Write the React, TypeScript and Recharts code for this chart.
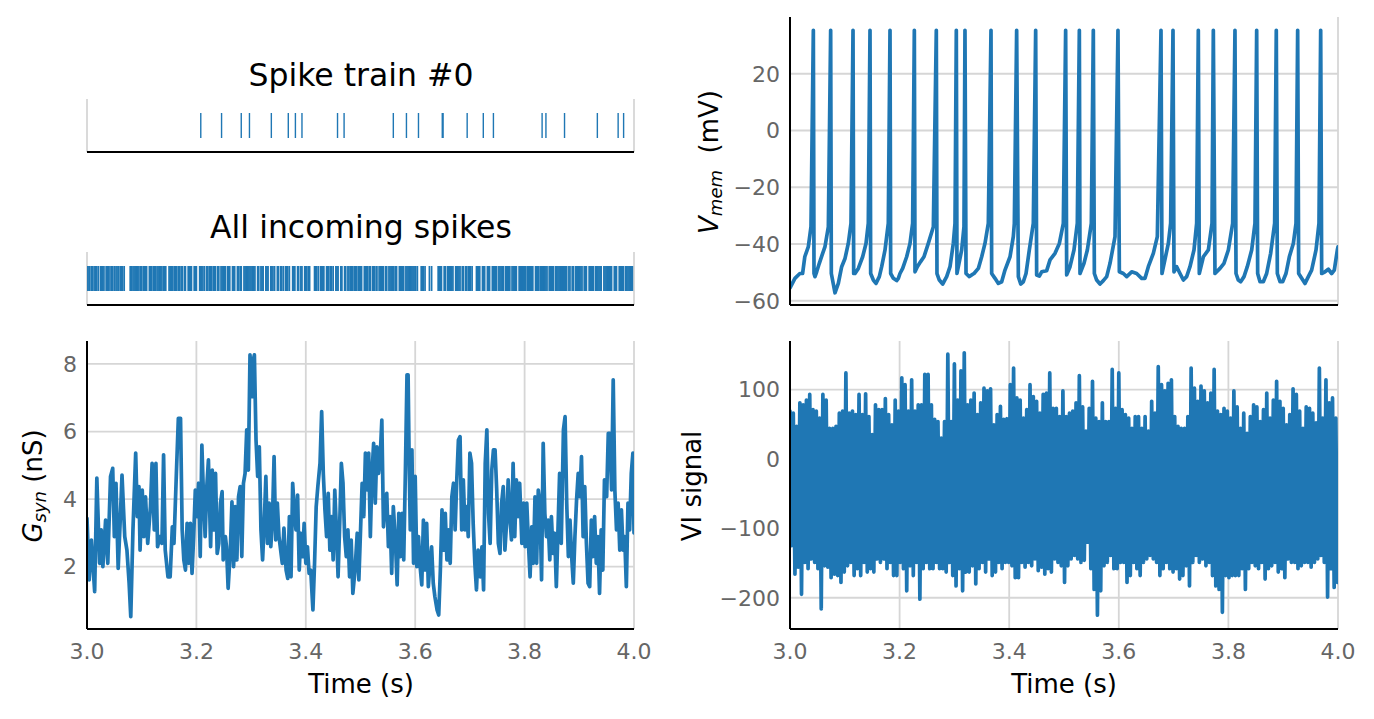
import React from "react";
import { LineChart, Line, ScatterChart, Scatter, XAxis, YAxis, CartesianGrid } from "recharts";

const W = 1374;
const H = 719;
const BLUE = "#1f77b4";
const GRID = "#d6d6d6";
const TICK_GRAY = "#666666";
const FONT = "DejaVu Sans, sans-serif";

const TIME_TICKS = [3.0, 3.2, 3.4, 3.6, 3.8, 4.0];
const GSYN_TICKS = [2, 4, 6, 8];
const VMEM_TICKS = [-60, -40, -20, 0, 20];
const VI_TICKS = [-200, -100, 0, 100];

// spike times, ms after t = 3 s
const TRAIN0_MS = [
  208, 246, 282, 297, 337, 368, 381, 393, 458, 470, 560, 584, 606, 649.5, 651, 695, 724.5, 743, 832, 839, 873,
  933, 971, 981,
];

const ALL_SPIKES_MS = [
  0, 2, 5, 8, 10, 13, 16, 18, 21, 25, 27, 29, 31, 35, 37, 39, 42, 45, 47, 50, 53, 55, 58, 61, 63, 65, 68,
  79, 81, 84, 86, 88, 91, 93, 95, 98, 100, 103, 105, 107, 109, 114, 116, 118, 121, 123, 125, 128, 130, 133, 135,
  137, 140, 142, 144,
  150, 152, 155, 157, 160, 162, 164, 167, 169, 172, 174, 178, 180, 185, 187, 189, 191, 196, 198, 200, 206, 208,
  210, 212, 215, 219, 221, 224, 226, 228, 231, 233, 235, 239, 241, 245, 247, 249, 251, 253, 257, 259, 261, 266,
  268, 270, 275, 277, 280, 282, 287, 289, 291, 294, 296, 298, 300, 303, 305, 307, 312, 314, 318, 320, 322, 327,
  329, 331, 336, 338, 340, 343, 348, 350, 354, 356, 359, 363, 365, 367, 370, 376, 378, 380, 385, 387, 391, 393,
  398, 400, 402, 405, 407,
  416, 418, 420, 423, 427, 429, 431, 433, 438, 440, 442, 445, 447, 450, 455, 457, 459, 464, 466, 471, 473, 477,
  479, 482, 484, 486, 489, 491, 493, 496, 498, 500, 502, 507, 509, 511, 513, 516, 518, 522, 524, 526, 529, 530,
  534, 536, 538, 540, 542, 546, 548, 552, 554, 556, 559, 561, 564, 566, 571, 573, 575, 577, 579, 583, 585, 587,
  589, 592, 594, 596, 598,
  601, 604, 611, 613, 615, 618, 626, 630,
  642, 644, 646, 648, 653, 655, 659, 661, 663, 665, 667, 669, 674, 676, 678, 680, 682, 686, 688, 692, 694, 697,
  699, 701, 704,
  712, 714, 716, 718, 723, 725, 727, 732, 734, 736, 741, 743, 745, 747, 749, 753, 755, 757, 759, 761, 765, 767,
  769, 771, 773, 777, 779, 781, 783, 785, 790, 792, 794, 796, 798, 800, 802, 805, 807, 809, 811, 813, 815, 820,
  822, 824, 826, 829, 831, 833, 835, 837, 839, 841, 845, 847, 849, 851, 853, 857, 859, 861, 863, 865, 867, 869,
  871, 873, 875, 877, 881, 883, 887, 889, 893, 895, 897, 899, 901, 903, 905, 909, 911, 913, 918, 920, 922, 924,
  926, 930, 932, 934, 936, 938, 940, 945, 947, 949, 951, 953, 955, 957, 959, 964, 966, 968, 973, 975, 977, 979,
  981, 985, 987, 989, 991, 993, 995, 997,
];

// [ms after 3 s, nS]
const GSYN: [number, number][] = [
  [0, 3.43], [4, 1.61], [8, 2.79], [14, 1.26], [18, 4.62], [23, 2.1], [26, 3.09], [29, 2.0], [34, 3.38], [38, 2.1],
  [43, 4.67], [47, 4.91], [50, 2.89], [53, 4.47], [57, 1.95], [61, 3.48], [64, 4.71], [69, 2.89], [73, 2.49],
  [77, 1.51], [80, 0.52], [84, 3.09], [89, 5.36], [92, 3.48], [95, 4.37], [97, 2.49], [101, 4.27], [104, 2.89],
  [107, 4.07], [111, 2.69], [116, 3.78], [119, 5.06], [123, 3.09], [126, 5.06], [129, 2.59], [133, 2.89],
  [137, 2.69], [140, 5.31], [143, 2.49], [148, 1.7], [152, 1.7], [156, 3.18], [159, 2.69], [163, 4.57], [167, 6.39],
  [171, 6.39], [174, 3.09], [177, 2.2], [180, 1.9], [183, 3.28], [186, 2.1], [189, 3.28], [192, 1.8], [195, 2.89],
  [198, 4.27], [201, 3.48], [204, 4.47], [207, 2.3], [210, 5.6], [213, 4.07], [216, 2.89], [219, 4.37], [222, 5.16],
  [226, 2.59], [229, 4.86], [232, 3.09], [235, 4.76], [238, 2.39], [241, 2.69], [244, 3.88], [247, 4.22], [249, 2.2],
  [253, 2.89], [255, 2.59], [258, 1.36], [262, 2.49], [265, 3.92], [268, 2.0], [271, 3.78], [274, 2.2], [277, 4.07],
  [280, 4.37], [283, 2.3], [286, 4.47], [289, 4.76], [292, 6.05], [295, 4.86], [298, 8.27], [302, 7.03], [304, 8.12],
  [306, 8.27], [309, 5.75], [312, 4.67], [315, 5.55], [318, 3.09], [321, 2.2], [324, 3.28], [327, 4.67], [330, 2.69],
  [333, 3.88], [336, 2.59], [339, 3.38], [342, 5.26], [345, 2.79], [348, 3.88], [351, 2.89], [354, 2.49], [357, 2.1],
  [360, 3.14], [364, 1.9], [367, 1.65], [370, 3.48], [373, 1.7], [376, 4.47], [379, 3.68], [382, 3.09], [385, 4.12],
  [388, 1.9], [391, 2.99], [394, 2.3], [397, 3.28], [400, 2.1], [403, 2.59], [406, 1.8], [409, 1.9], [413, 0.72],
  [416, 2.1], [419, 3.78], [422, 4.37], [426, 5.06], [429, 6.59], [432, 4.76], [435, 3.68], [438, 2.89], [441, 4.17],
  [444, 2.49], [447, 3.48], [450, 2.2], [453, 4.27], [456, 3.09], [459, 1.7], [462, 3.28], [465, 5.06], [468, 4.47],
  [471, 2.89], [474, 2.3], [477, 3.09], [480, 1.7], [483, 2.79], [486, 1.21], [490, 1.9], [494, 2.99], [497, 1.61],
  [503, 4.47], [506, 3.48], [509, 5.36], [512, 4.27], [515, 5.36], [518, 2.89], [521, 4.76], [524, 5.65], [527, 3.88],
  [530, 5.55], [533, 4.76], [536, 5.26], [539, 6.34], [542, 3.18], [545, 3.88], [548, 4.17], [551, 2.59], [554, 3.48],
  [557, 1.8], [560, 3.78], [564, 2.69], [567, 1.46], [570, 3.58], [573, 2.3], [576, 3.58], [579, 2.2], [582, 4.76],
  [585, 7.68], [587, 7.68], [589, 5.06], [591, 3.09], [594, 5.46], [597, 2.1], [600, 4.67], [603, 2.0], [606, 2.89],
  [609, 2.0], [612, 1.46], [615, 3.38], [618, 1.9], [621, 3.28], [624, 1.41], [627, 2.1], [630, 2.59], [633, 1.51],
  [636, 1.11], [640, 0.72], [643, 0.57], [646, 1.9], [649, 3.68], [652, 2.49], [655, 3.58], [658, 2.2], [661, 3.09],
  [664, 2.1], [667, 4.07], [670, 4.47], [673, 3.09], [676, 4.57], [679, 5.75], [682, 5.85], [685, 3.09], [688, 4.57],
  [691, 3.09], [694, 3.78], [697, 2.89], [700, 5.36], [703, 5.06], [706, 3.28], [709, 2.1], [712, 1.31], [715, 2.49],
  [719, 1.7], [722, 2.59], [725, 1.31], [728, 5.06], [731, 6.05], [734, 3.58], [737, 2.69], [740, 4.86], [743, 5.46],
  [746, 5.46], [749, 4.27], [752, 2.69], [755, 2.39], [758, 3.88], [761, 4.37], [764, 2.49], [767, 3.28], [770, 4.57],
  [773, 3.48], [776, 2.79], [779, 5.06], [782, 2.89], [785, 4.57], [788, 3.48], [791, 4.47], [795, 2.69], [798, 3.88],
  [801, 2.59], [804, 3.88], [807, 2.69], [810, 1.7], [813, 3.18], [816, 2.1], [819, 4.07], [822, 2.1], [825, 4.27],
  [828, 3.88], [831, 1.61], [834, 5.65], [837, 3.58], [840, 2.89], [843, 3.38], [846, 2.2], [849, 3.48], [852, 2.39],
  [855, 2.99], [858, 1.41], [861, 3.09], [864, 4.76], [867, 2.69], [871, 6.05], [874, 6.44], [877, 3.88], [880, 2.3],
  [883, 3.38], [886, 2.3], [889, 1.51], [892, 2.89], [895, 3.97], [898, 4.76], [901, 4.07], [904, 5.26], [907, 2.89],
  [910, 4.37], [913, 2.69], [916, 1.51], [919, 1.41], [922, 3.38], [925, 2.3], [928, 3.48], [931, 2.1], [934, 2.89],
  [937, 1.21], [940, 3.09], [943, 1.9], [946, 4.57], [950, 4.07], [953, 5.95], [956, 5.95], [959, 4.27], [962, 7.53],
  [965, 4.27], [968, 3.09], [971, 3.88], [974, 2.49], [977, 3.68], [980, 2.49], [983, 2.89], [986, 1.41], [989, 3.88],
  [992, 3.09], [995, 4.76], [998, 5.36], [1000, 3.0],
];

// [ms after 3 s, mV]
const VMEM: [number, number][] = [
  [0, -55.5], [1, -55.1], [9, -52.1], [18, -50.4], [23, -50.4], [27, -44.5], [33.5, -40.9], [38.3, -33.9],
  [42.6, 35.3], [43.8, -50.4], [45.6, -51.5], [48.7, -49.8], [53.5, -46.8], [59.6, -43.3], [63.9, -40.9], [70, -33.9],
  [74.2, 35.3], [75.4, -50.4], [82.1, -57.2], [88.2, -53.9], [94.3, -48.0], [100.4, -45.1], [106.4, -39.8],
  [111.3, -32.7], [115, 35.3], [116.2, -50.4], [118.6, -50.4], [124.7, -48.6], [132.6, -44.5], [138.7, -39.8],
  [142.9, -32.7], [146, 35.3], [147.2, -50.4], [152.1, -52.7], [156.9, -53.9], [163, -51.5], [167.3, -48.0],
  [173.4, -42.1], [179.4, -32.7], [182.5, 35.3], [183.7, -50.4], [188.6, -52.1], [194.6, -52.9], [197.7, -52.1],
  [200.7, -50.4], [205.6, -48.6], [212.9, -44.5], [219, -39.8], [223.8, -32.7], [226.9, 35.3], [228.1, -49.8],
  [232.4, -48.0], [238.4, -46.2], [244.5, -44.5], [252.4, -39.8], [261.6, -33.9], [267, 35.3], [268.2, -50.4],
  [272.5, -52.7], [278.6, -54.1], [285.9, -51.5], [292, -48.0], [298, -39.8], [301.1, -32.7], [303.5, 35.3],
  [304.7, -50.4], [313.3, -42.1], [317.5, -33.9], [319.3, 35.3], [321.2, -50.4], [327.3, -51.5], [331.5, -50.9],
  [335.8, -50.4], [343.7, -48.6], [349.8, -44.5], [355.8, -39.8], [361.9, -32.7], [366.8, 35.3], [368, -50.4],
  [374.1, -52.1], [380.2, -53.9], [386.3, -53.3], [392.3, -49.2], [401.5, -44.5], [407.5, -37.4], [409.4, -32.7],
  [413.6, 35.3], [416.7, -51.5], [421, -54.1], [425.8, -53.3], [430.7, -50.4], [436.7, -42.1], [444, -32.7],
  [448.3, 35.3], [450.1, -50.9], [455, -51.3], [459.3, -49.8], [468.4, -49.4], [474.5, -45.6], [483.6, -43.3],
  [491.5, -39.8], [498.8, -32.7], [503, 35.3], [504.9, -50.9], [511, -48.0], [518.2, -42.1], [524.3, -32.7],
  [528, 35.3], [529.2, -50.4], [536.5, -46.8], [542.6, -42.1], [549.9, -32.7], [553.5, 35.3], [555.4, -50.4],
  [559.6, -52.7], [565.7, -54.1], [571.8, -52.9], [577.9, -51.5], [584, -46.8], [593.1, -37.4], [598.5, 35.3],
  [601, -49.8], [608.3, -50.4], [614.4, -51.5], [623.5, -49.8], [632.6, -50.4], [641.7, -52.1], [647.8, -52.1],
  [653.9, -48.0], [663, -43.3], [670.3, -37.4], [677, 35.3], [678.8, -50.4], [690.4, -39.8], [694.6, -32.7],
  [698.9, 35.3], [700.7, -49.8], [705.6, -48.0], [711.7, -50.4], [717.8, -52.7], [723.8, -51.5], [729.9, -48.0],
  [737.2, -42.1], [742.1, -32.7], [745.1, 35.3], [746.9, -50.4], [754.3, -44.5], [763.4, -42.1], [770.1, -32.7],
  [772.5, 35.3], [775.5, -50.4], [784.7, -48.6], [792, -46.8], [799.9, -42.1], [807.8, -32.7], [812, 35.3],
  [813.9, -50.4], [818.1, -52.7], [822.4, -53.3], [828.5, -51.5], [834.5, -48.0], [842.5, -42.1], [848.5, -32.7],
  [851.6, 35.3], [853.4, -50.4], [857.7, -53.3], [863.7, -53.3], [869.8, -50.4], [877.1, -43.3], [884.4, -32.7],
  [887.4, 35.3], [889.3, -50.4], [894.2, -53.3], [899, -53.3], [905.1, -50.4], [911.2, -44.5], [918.5, -39.8],
  [923.4, -32.7], [926.4, 35.3], [928.2, -50.4], [933.7, -52.1], [939.8, -53.9], [945.9, -51.5], [951.9, -49.2],
  [959.9, -42.1], [965.3, -32.7], [968.4, 35.3], [970.2, -50.4], [976.3, -49.8], [982.4, -48.9], [988.4, -50.4],
  [993.3, -49.2], [998.8, -42.1], [1000, -41],
];

// VI signal envelope read every 6 ms: upper swings, and lower swings 3 ms later
const VI_STEP_MS = 6;
const VI_HIGH = [
  69, 66, 47, 81, 78, 85, 93, 71, 69, 59, 93, 85, 44, 44, 47, 66, 69, 124, 66, 69, 64, 93, 64, 94, 61, 35, 78, 71,
  71, 87, 64, 49, 85, 69, 117, 107, 69, 114, 69, 78, 78, 122, 122, 78, 57, 54, 30, 54, 151, 54, 137, 85, 127, 153,
  78, 85, 95, 64, 81, 102, 98, 101, 49, 64, 76, 57, 58, 107, 131, 88,
  85, 59, 71, 107, 90, 83, 66, 93, 95, 124, 73, 73, 61, 98, 61, 66, 69, 81, 120, 75, 40, 73, 112, 59, 54, 81, 54,
  54, 129, 73, 124, 71, 64, 59, 44, 61, 61, 44, 61, 40, 83, 66, 133, 107, 98, 109, 114, 61, 47, 44, 44, 61, 131,
  102, 83, 105, 98, 81, 95, 129, 69, 64, 73, 69, 59, 98, 75, 44, 66, 37, 61, 78, 75, 54, 71, 95, 59, 85, 112, 83,
  73, 49, 64, 101, 93, 69, 44, 75, 73, 66, 52, 131, 59, 114, 81, 88, 59,
];
const VI_LOW = [
  -125, -166, -156, -195, -149, -158, -144, -149, -158, -216, -154, -156, -171, -166, -168, -178, -163, -154, -149,
  -168, -158, -168, -149, -163, -158, -163, -144, -149, -144, -158, -149, -168, -168, -149, -158, -190, -154, -168,
  -149, -202, -158, -149, -158, -158, -149, -158, -158, -163, -149, -168, -183, -158, -190, -163, -163, -154, -180,
  -158, -149, -163, -144, -168, -163, -149, -158, -149, -149, -154, -171,
  -171, -149, -156, -149, -154, -144, -161, -156, -166, -158, -163, -144, -149, -154, -178, -154, -144, -139, -144,
  -149, -146, -120, -158, -188, -225, -190, -154, -149, -139, -158, -158, -149, -149, -178, -168, -149, -158, -168,
  -149, -144, -139, -144, -149, -168, -158, -149, -158, -163, -158, -173, -168, -154, -183, -149, -139, -149, -144,
  -154, -149, -168, -183, -188, -221, -168, -171, -168, -168, -168, -158, -188, -158, -149, -154, -158, -149, -173,
  -158, -154, -149, -163, -158, -171, -144, -149, -149, -158, -154, -149, -149, -156, -149, -144, -139, -149, -199,
  -158, -185, -178,
];

const toSec = (ms: number) => 3 + ms / 1000;
const minusSign = (v: number) => String(v).replace("-", "\u2212");

const gsynData = GSYN.map(([ms, v]) => ({ t: toSec(ms), v }));
const vmemData = VMEM.map(([ms, v]) => ({ t: toSec(ms), v }));
const viData: { t: number; v: number }[] = [];
for (let k = 0; k < Math.min(VI_HIGH.length, VI_LOW.length); k++) {
  viData.push({ t: toSec(k * VI_STEP_MS), v: VI_HIGH[k] });
  viData.push({ t: toSec(k * VI_STEP_MS + VI_STEP_MS / 2), v: VI_LOW[k] });
}

const tickStyle = { fill: TICK_GRAY, fontSize: 22, fontFamily: FONT };
const spine = { stroke: "#000", strokeWidth: 2 };

// each chart covers the whole figure; margins place its plot box
const box = (left: number, top: number, right: number, bottom: number, yw: number, xh: number) => ({
  top,
  left: left - yw,
  right: W - right,
  bottom: H - bottom - xh,
});

const spikeMark = (width: number) => (props: any) => {
  const { cx, cy } = props;
  return <line x1={cx} x2={cx} y1={cy - 12.5} y2={cy + 12.5} stroke={BLUE} strokeWidth={width} />;
};

function Raster({ spikes, top, width }: { spikes: number[]; top: number; width: number }) {
  const data = spikes.map((ms) => ({ t: toSec(ms), y: 0.5 }));
  return (
    <div style={{ position: "absolute", left: 0, top: 0 }}>
      <ScatterChart width={W} height={H} margin={box(87, top, 634, top + 53, 0, 10)}>
        <CartesianGrid horizontal={false} stroke={GRID} strokeWidth={1.8} />
        <XAxis
          type="number"
          dataKey="t"
          domain={[3, 4]}
          ticks={TIME_TICKS}
          tick={false}
          tickLine={false}
          height={10}
          axisLine={spine}
          allowDataOverflow
        />
        <YAxis type="number" dataKey="y" domain={[0, 1]} hide />
        <Scatter data={data} shape={spikeMark(width)} isAnimationActive={false} />
      </ScatterChart>
    </div>
  );
}

function Trace({
  data,
  plot,
  domain,
  yTicks,
  showTime,
}: {
  data: { t: number; v: number }[];
  plot: [number, number, number, number];
  domain: [number, number];
  yTicks: number[];
  showTime: boolean;
}) {
  const [l, t, r, b] = plot;
  return (
    <div style={{ position: "absolute", left: 0, top: 0 }}>
      <LineChart width={W} height={H} data={data} margin={box(l, t, r, b, 70, 40)}>
        <CartesianGrid horizontal={false} stroke={GRID} strokeWidth={1.8} />
        <CartesianGrid vertical={false} stroke={GRID} strokeWidth={1.8} syncWithTicks />
        <XAxis
          type="number"
          dataKey="t"
          domain={[3, 4]}
          ticks={TIME_TICKS}
          interval={0}
          tick={showTime ? tickStyle : false}
          tickFormatter={(v: number) => v.toFixed(1)}
          tickLine={false}
          tickSize={0}
          tickMargin={14}
          height={40}
          axisLine={spine}
          allowDataOverflow
        />
        <YAxis
          type="number"
          domain={domain}
          ticks={yTicks}
          interval={0}
          width={70}
          tick={tickStyle}
          tickFormatter={minusSign}
          tickLine={false}
          tickSize={0}
          tickMargin={10}
          axisLine={spine}
          allowDataOverflow
        />
        <Line
          dataKey="v"
          stroke={BLUE}
          strokeWidth={3.7}
          strokeLinejoin="round"
          strokeLinecap="round"
          dot={false}
          isAnimationActive={false}
        />
      </LineChart>
    </div>
  );
}

export default function App() {
  return (
    <div style={{ position: "absolute", left: 0, top: 0, width: W, height: H, background: "#fff" }}>
      <svg width={W} height={H} style={{ position: "absolute", left: 0, top: 0 }} fontFamily={FONT} fill="#000">
        <text x={361} y={86} fontSize={31.5} textAnchor="middle">Spike train #0</text>
        <text x={361} y={238} fontSize={31.5} textAnchor="middle">All incoming spikes</text>
        <text x={361} y={693} fontSize={26} textAnchor="middle">Time (s)</text>
        <text x={1064} y={693} fontSize={26} textAnchor="middle">Time (s)</text>
        <text transform="translate(41.5,486) rotate(-90)" fontSize={26} textAnchor="middle">
          <tspan fontStyle="italic">G</tspan>
          <tspan fontStyle="italic" fontSize={18} dy={4}>syn</tspan>
          <tspan dy={-4}> (nS)</tspan>
        </text>
        <text transform="translate(718,162) rotate(-90)" fontSize={26} textAnchor="middle">
          <tspan fontStyle="italic">V</tspan>
          <tspan fontStyle="italic" fontSize={18} dy={4}>mem</tspan>
          <tspan dy={-4}>{"\u00a0 (mV)"}</tspan>
        </text>
        <text transform="translate(700.5,486) rotate(-90)" fontSize={26} textAnchor="middle">VI signal</text>
      </svg>
      <Raster spikes={TRAIN0_MS} top={99} width={1.4} />
      <Raster spikes={ALL_SPIKES_MS} top={252} width={1.7} />
      <Trace data={gsynData} plot={[87, 341, 634, 629]} domain={[0.155, 8.68]} yTicks={GSYN_TICKS} showTime />
      <Trace data={vmemData} plot={[790, 17, 1338, 305]} domain={[-61.5, 40]} yTicks={VMEM_TICKS} showTime={false} />
      <Trace data={viData} plot={[790, 341, 1338, 629]} domain={[-245, 170]} yTicks={VI_TICKS} showTime />
    </div>
  );
}
